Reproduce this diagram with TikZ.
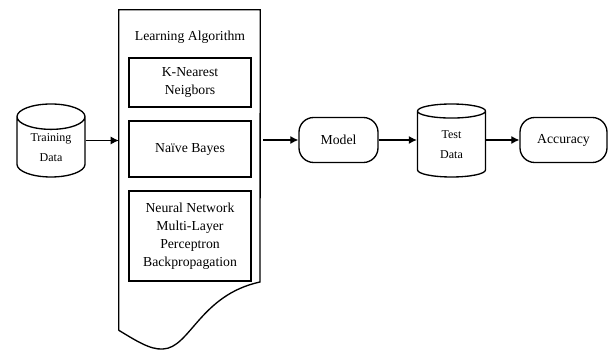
\documentclass[tikz,border=0pt]{standalone}
\usepackage{fontspec}
\setmainfont{Liberation Serif}
\usepackage{tikz}
\usetikzlibrary{calc}
\usetikzlibrary{positioning}
\usetikzlibrary{arrows.meta}
\usetikzlibrary{shapes.geometric}

\tikzset{
    algbox/.style={draw,line width=1pt,inner sep=0pt,align=center,minimum width=91.5pt,
        font=\fontsize{10.3}{13.5}\selectfont},
    datastore/.style={draw,line width=1pt,cylinder,shape border rotate=90,aspect=0.62,
        minimum width=51pt,minimum height=54.75pt,inner sep=0pt,anchor=shape center,
        align=center,font=\fontsize{9}{15}\selectfont},
    terminal/.style={draw,line width=1pt,rounded corners=11pt,minimum height=33.75pt,
        inner sep=0pt,font=\fontsize{10.3}{13}\selectfont},
    flow/.style={-{Latex[length=6pt,width=6pt]},line width=0.8pt}
}

\begin{document}
\begin{tikzpicture}[x=0.75pt,y=-0.75pt]
            \useasboundingbox (0,0) rectangle (608,352);

            \node[datastore] (train) at (51,140.5) {Training\\Data};

            \node[inner sep=0pt,minimum width=105.75pt,minimum height=240pt] (alg) at (189.5,170) {};
            \draw[line width=1pt] (alg.south west) -- (alg.north west) -- (alg.north east)
                -- (260,282) .. controls (200,295) and (190,348) .. (163,349)
                .. controls (150,350) and (135,340) .. (alg.south west);
            \node[font=\fontsize{10.3}{13}\selectfont] (title) at (190,37) {Learning Algorithm};

            \node[algbox,minimum height=36.75pt] (knn) at (190,82.5) {K-Nearest\\Neigbors};
            \node[algbox,minimum height=42pt] (nb) at (190,149) {Na\"ive Bayes};
            \node[algbox,minimum height=67.5pt] (nn) at (190,236)
                {Neural Network\\Multi-Layer\\Perceptron\\Backpropagation};

            \node[terminal,minimum width=59.25pt] (model) at (338.5,140) {Model};
            \node[datastore] (test) at (451.5,140.5) {Test\\Data};
            \node[terminal,minimum width=65.25pt] (acc) at (563.5,140) {Accuracy};

            \draw[flow] (train.east |- train.shape center) -- (alg.west |- train.shape center);
            \draw[flow,shorten <=2.25pt] (alg.east |- model) -- (model);
            \draw[flow] (model) -- (model -| test.west);
            \draw[flow] (test.east |- acc) -- (acc);
        \end{tikzpicture}
\end{document}
